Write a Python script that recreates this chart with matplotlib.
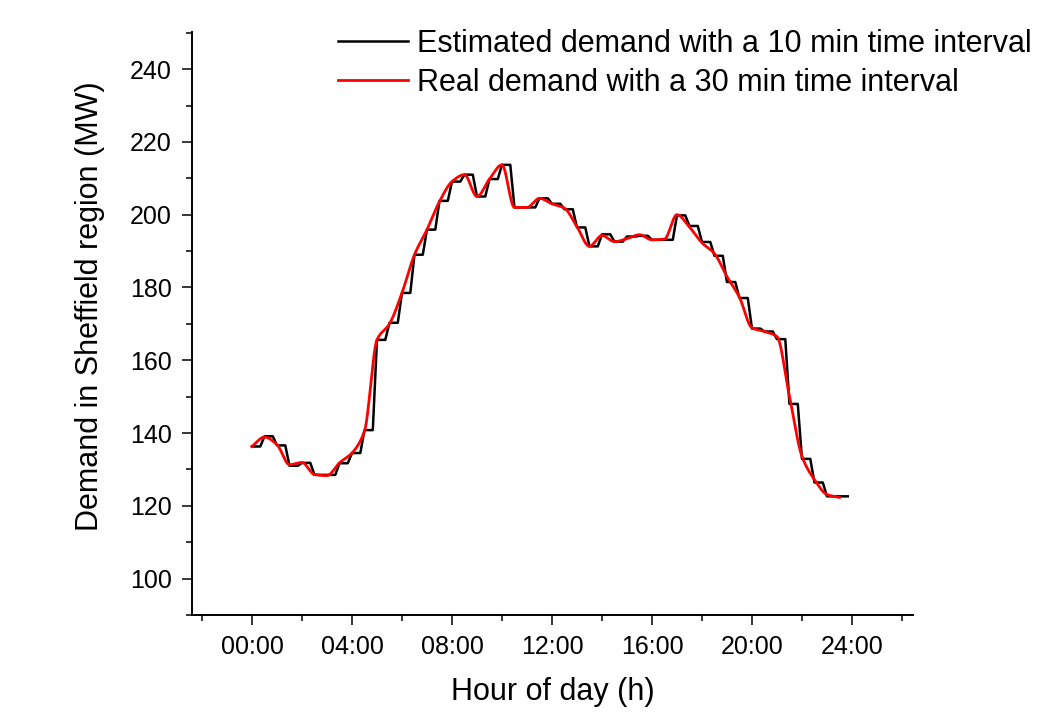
import numpy as np
import matplotlib
matplotlib.use("Agg")
import matplotlib.pyplot as plt

plt.rcParams['font.family'] = ['Liberation Sans', 'DejaVu Sans']

# real demand, every 30 min from 00:00 to 23:30 (MW)
real_hours = np.arange(48) / 2
real_mw = [136.3, 138.9, 136.8, 131.3, 131.9, 128.6, 128.3, 131.8, 134.5, 140.5,
           165.6, 170.0, 178.5, 189.0, 195.9, 203.6, 209.1, 211.0, 205.0, 209.8,
           213.7, 202.0, 202.0, 204.5, 203.0, 201.8, 196.7, 191.3, 194.3, 192.6,
           193.4, 194.5, 193.1, 193.3, 200.0, 196.6, 192.3, 189.3, 183.0, 177.3,
           168.9, 167.9, 166.5, 150.1, 133.6, 127.2, 123.1, 122.3]

# estimated demand, every 10 min (one row per hour)
est_hours = np.arange(144) / 6
est_mw = [136.3, 136.3, 136.3, 139.1, 139.1, 139.1,
          136.6, 136.6, 136.6, 131.0, 131.0, 131.0,
          131.8, 131.8, 131.8, 128.5, 128.5, 128.5,
          128.5, 128.5, 128.5, 131.7, 131.7, 131.7,
          134.5, 134.5, 134.5, 140.8, 140.8, 140.8,
          165.6, 165.6, 165.6, 170.3, 170.3, 170.3,
          178.5, 178.5, 178.5, 189.0, 189.0, 189.0,
          195.9, 195.9, 195.9, 203.8, 203.8, 203.8,
          209.1, 209.1, 209.1, 211.0, 211.0, 211.0,
          205.0, 205.0, 205.0, 209.8, 209.8, 209.8,
          213.7, 213.7, 213.7, 202.0, 202.0, 202.0,
          202.0, 202.0, 202.0, 204.5, 204.5, 204.5,
          203.0, 203.0, 203.0, 201.5, 201.5, 201.5,
          196.5, 196.5, 196.5, 191.3, 191.3, 191.3,
          194.6, 194.6, 194.6, 192.6, 192.6, 192.6,
          194.0, 194.0, 194.0, 194.2, 194.2, 194.2,
          193.1, 193.1, 193.1, 193.1, 193.1, 193.1,
          199.8, 199.8, 199.8, 196.9, 196.9, 196.9,
          192.5, 192.5, 192.5, 188.7, 188.7, 188.7,
          181.5, 181.5, 181.5, 177.1, 177.1, 177.1,
          168.7, 168.7, 168.7, 167.9, 167.9, 167.9,
          165.8, 165.8, 165.8, 148.0, 148.0, 148.0,
          132.9, 132.9, 132.9, 126.4, 126.4, 126.4,
          122.6, 122.6, 122.6, 122.6, 122.6, 122.6]

xticks = [0, 4, 8, 12, 16, 20, 24]
xlabels = ["00:00", "04:00", "08:00", "12:00", "16:00", "20:00", "24:00"]
yticks = [100, 120, 140, 160, 180, 200, 220, 240]


def smooth_path(x, y, n=2000):
    # monotone cubic (pchip) -- only used to draw the red line smoothly
    x = np.asarray(x, float)
    y = np.asarray(y, float)
    h = np.diff(x)
    s = np.diff(y) / h
    d = np.zeros_like(y)
    for i in range(1, len(x) - 1):
        if s[i - 1] * s[i] > 0:
            w1 = 2 * h[i] + h[i - 1]
            w2 = h[i] + 2 * h[i - 1]
            d[i] = (w1 + w2) / (w1 / s[i - 1] + w2 / s[i])
    d[0] = s[0]
    d[-1] = s[-1]
    xs = np.linspace(x[0], x[-1], n)
    k = np.clip(np.searchsorted(x, xs) - 1, 0, len(x) - 2)
    t = (xs - x[k]) / h[k]
    h00 = 2 * t ** 3 - 3 * t ** 2 + 1
    h10 = t ** 3 - 2 * t ** 2 + t
    h01 = -2 * t ** 3 + 3 * t ** 2
    h11 = t ** 3 - t ** 2
    ys = h00 * y[k] + h10 * h[k] * d[k] + h01 * y[k + 1] + h11 * h[k] * d[k + 1]
    return xs, ys


fig = plt.figure(figsize=(10.49, 7.18), dpi=100)
ax = fig.add_axes([0.183, 0.1435, 0.6873, 0.8124])

ax.plot(est_hours, est_mw, color='black', lw=1.8,
        label="Estimated demand with a 10 min time interval")
xs, ys = smooth_path(real_hours, real_mw)
ax.plot(xs, ys, color='red', lw=2.0,
        label="Real demand with a 30 min time interval")

ax.set_xlim(-2.4, 26.44)
ax.set_ylim(90, 250.3)
ax.set_xticks(xticks)
ax.set_xticklabels(xlabels)
ax.set_xticks(np.arange(-2, 27, 4), minor=True)
ax.set_yticks(yticks)
ax.set_yticks(np.arange(90, 251, 20), minor=True)

for s in ['top', 'right']:
    ax.spines[s].set_visible(False)
for s in ['left', 'bottom']:
    ax.spines[s].set_linewidth(1.4)

ax.tick_params(which='major', direction='out', length=7.5, width=1.1,
               labelsize=18, pad=7)
ax.tick_params(which='minor', direction='out', length=4.3, width=1.1)

ax.set_xlabel("Hour of day (h)", fontsize=22, labelpad=13)
ax.set_ylabel("Demand in Sheffield region (MW)", fontsize=22)
ax.yaxis.set_label_coords(-0.12, 0.53)

fig.legend(loc='upper left', bbox_to_anchor=(338 / 1049, 0.9596),
           frameon=False, fontsize=22, handlelength=2.3, handletextpad=0.3,
           borderpad=0, borderaxespad=0, labelspacing=0.3)

plt.savefig("out.png", dpi=100)
